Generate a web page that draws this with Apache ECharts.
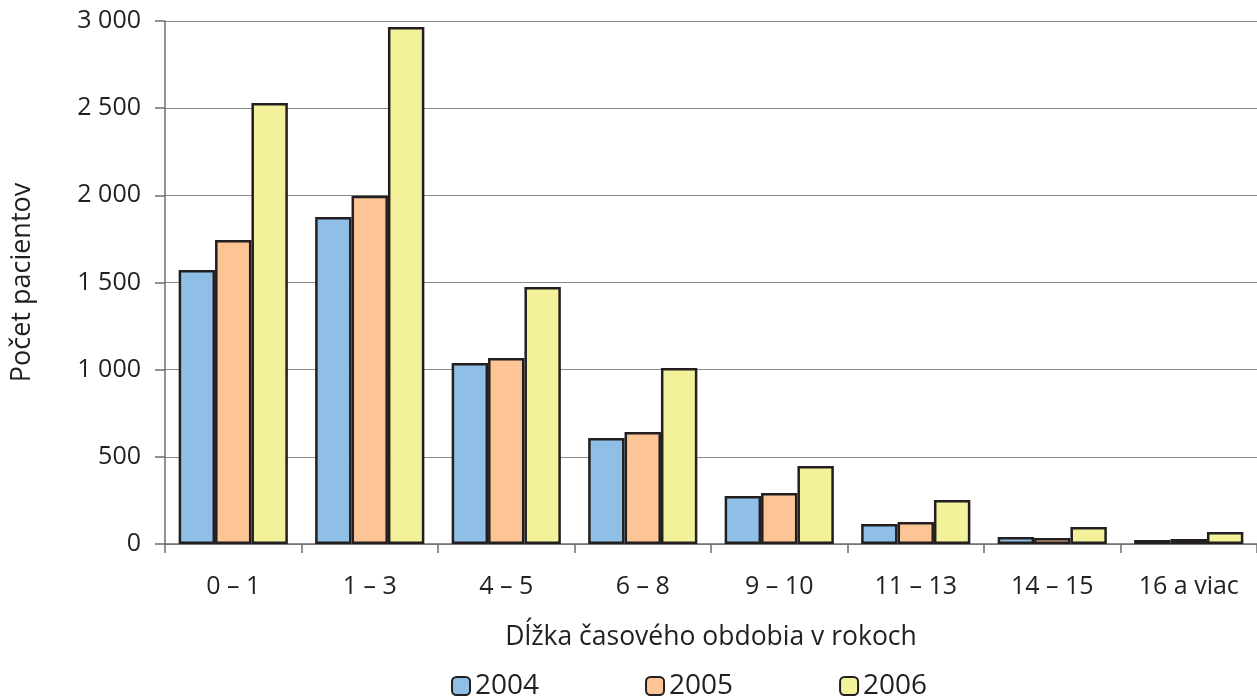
<!DOCTYPE html>
<html>
<head>
<meta charset="utf-8">
<script src="https://cdn.jsdelivr.net/npm/echarts@6/dist/echarts.min.js"></script>
<style>
  html, body {margin:0;padding:0;background:#fff;}
  #chart {width:1257px;height:699px;}
</style>
</head>
<body>
<div id="chart"></div>
<script>
// kategórie (dĺžka obdobia v rokoch)
var categories = ['0 – 1', '1 – 3', '4 – 5', '6 – 8', '9 – 10', '11 – 13', '14 – 15', '16 a viac'];
var years = ['2004', '2005', '2006'];
var data2004 = [1572, 1876, 1038, 608, 275, 115, 40, 23];
var data2005 = [1744, 1997, 1067, 643, 293, 126, 34, 29];
var data2006 = [2530, 2966, 1474, 1010, 447, 252, 97, 69];
var yTicks = [0, 500, 1000, 1500, 2000, 2500, 3000];

var colors = ['#8fbfe6', '#fdc596', '#f3f199'];
var font = 'Open Sans';

var myChart = echarts.init(document.getElementById('chart'));

function fmt(v) {
  return String(v).replace(/\B(?=(\d{3})+(?!\d))/g, ' ');
}

var seriesData = [data2004, data2005, data2006];

var option = {
  animation: false,
  textStyle: {fontFamily: font, color: '#231f20'},
  grid: {left: 165, right: 0, top: 21, bottom: 155, outerBoundsMode: 'none', containLabel: false},
  legend: {
    bottom: -1,
    left: 451,
    padding: 0,
    itemWidth: 18,
    itemHeight: 18,
    itemGap: 106,
    data: years,
    textStyle: {fontFamily: font, fontSize: 28, color: '#231f20'}
  },
  xAxis: {
    type: 'category',
    data: categories,
    boundaryGap: true,
    name: 'Dĺžka časového obdobia v rokoch',
    nameLocation: 'middle',
    nameGap: 80,
    nameTextStyle: {fontFamily: font, fontSize: 26.5, color: '#231f20'},
    axisLine: {lineStyle: {color: '#6d6e71', width: 1.5}},
    axisTick: {show: true, length: 9, lineStyle: {color: '#6d6e71', width: 1.5}},
    axisLabel: {fontSize: 25, color: '#231f20', margin: 30}
  },
  yAxis: {
    type: 'value',
    min: yTicks[0],
    max: yTicks[yTicks.length - 1],
    interval: 500,
    name: 'Počet pacientov',
    nameLocation: 'middle',
    nameGap: 129,
    nameTextStyle: {fontFamily: font, fontSize: 27, color: '#231f20'},
    axisLine: {show: true, lineStyle: {color: '#6d6e71', width: 1.5}},
    axisTick: {show: true, length: 10, lineStyle: {color: '#6d6e71', width: 1.5}},
    axisLabel: {fontSize: 25, color: '#231f20', margin: 24, formatter: fmt},
    splitLine: {lineStyle: {color: '#8a8a8a', width: 1.2}}
  },
  series: years.map(function (y, i) {
    return {
      name: y,
      type: 'bar',
      data: seriesData[i],
      barGap: '0%',
      barCategoryGap: '20%',
      itemStyle: {color: colors[i], borderColor: '#231f20', borderWidth: 2.5}
    };
  })
};
myChart.setOption(option);
</script>
</body>
</html>
